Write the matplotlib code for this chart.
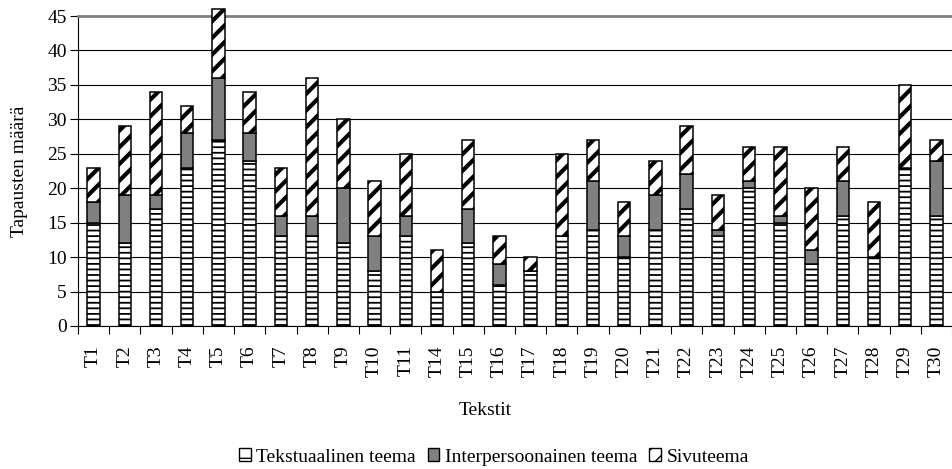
import matplotlib
matplotlib.use("Agg")
import matplotlib.pyplot as plt
from matplotlib.patches import Patch
import numpy as np

plt.rcParams['font.family'] = ['Liberation Serif', 'DejaVu Serif']
plt.rcParams['font.size'] = 14

texts = ['T1', 'T2', 'T3', 'T4', 'T5', 'T6', 'T7', 'T8', 'T9', 'T10', 'T11',
         'T14', 'T15', 'T16', 'T17', 'T18', 'T19', 'T20', 'T21', 'T22', 'T23',
         'T24', 'T25', 'T26', 'T27', 'T28', 'T29', 'T30']
tekstuaalinen = [15, 12, 17, 23, 27, 24, 13, 13, 12, 8, 13,
                 5, 12, 6, 8, 13, 14, 10, 14, 17, 13,
                 20, 15, 9, 16, 10, 23, 16]
interpersoonainen = [3, 7, 2, 5, 9, 4, 3, 3, 8, 5, 3,
                     0, 5, 3, 0, 0, 7, 3, 5, 5, 1,
                     1, 1, 2, 5, 0, 0, 8]
sivuteema = [5, 10, 15, 4, 10, 6, 7, 20, 10, 8, 9,
             6, 10, 4, 2, 12, 6, 5, 5, 7, 5,
             5, 10, 9, 5, 8, 12, 3]

t1 = np.array(tekstuaalinen)
t2 = np.array(interpersoonainen)
t3 = np.array(sivuteema)
x = np.arange(len(texts))

fig = plt.figure(figsize=(9.52, 4.69), dpi=100)
ax = fig.add_axes([78 / 952, 1 - 326 / 469, 874 / 952, 310 / 469])

w = 0.4
common = dict(width=w, edgecolor='black', linewidth=1.1, clip_on=False, zorder=3)
plt.rcParams['hatch.linewidth'] = 1.3
b1 = ax.bar(x, t1, color='white', hatch='---', **common)
b2 = ax.bar(x, t2, bottom=t1, color='#808080', **common)
plt.rcParams['hatch.linewidth'] = 3.0
b3 = ax.bar(x, t3, bottom=t1 + t2, color='white', hatch='//', **common)

# lighter stripes for the textual theme where supported
for p in b1:
    if hasattr(p, 'set_hatchcolor'):
        p.set_hatchcolor('#707070')

ax.set_xlim(-0.5, len(texts) - 0.5)
ax.set_ylim(0, 45)
ax.set_yticks(range(0, 46, 5))
ax.yaxis.grid(True, color='black', linewidth=0.8)
ax.set_axisbelow(True)

ax.set_xticks(x)
ax.set_xticklabels(texts, rotation=90)
ax.set_xticks(np.arange(-0.5, len(texts), 1), minor=True)
ax.tick_params(axis='x', which='major', length=0, pad=14)
ax.tick_params(axis='x', which='minor', length=6, width=0.8, direction='out')
ax.tick_params(axis='y', length=6, width=0.8, pad=2)

ax.spines['right'].set_visible(False)
ax.spines['top'].set_color('#808080')
ax.spines['top'].set_linewidth(2)
ax.spines['left'].set_linewidth(0.8)
ax.spines['bottom'].set_linewidth(0.8)

ax.set_ylabel('Tapausten määrä', labelpad=14)
fig.text(485 / 952, 1 - 410 / 469, 'Tekstit', ha='center', va='center')

plt.rcParams['hatch.linewidth'] = 1.0
handles = [
    Patch(facecolor='white', edgecolor='black', hatch='-', linewidth=1),
    Patch(facecolor='#808080', edgecolor='black', linewidth=1),
    Patch(facecolor='white', edgecolor='black', hatch='//', linewidth=1),
]
fig.legend(handles, ['Tekstuaalinen teema', 'Interpersoonainen teema', 'Sivuteema'],
           loc='center', bbox_to_anchor=(494 / 952, 1 - 457 / 469), ncol=3,
           frameon=False, handlelength=0.6, handleheight=0.6, handletextpad=0.3,
           columnspacing=0.6, borderpad=0)

fig.savefig('out.png', dpi=100)
